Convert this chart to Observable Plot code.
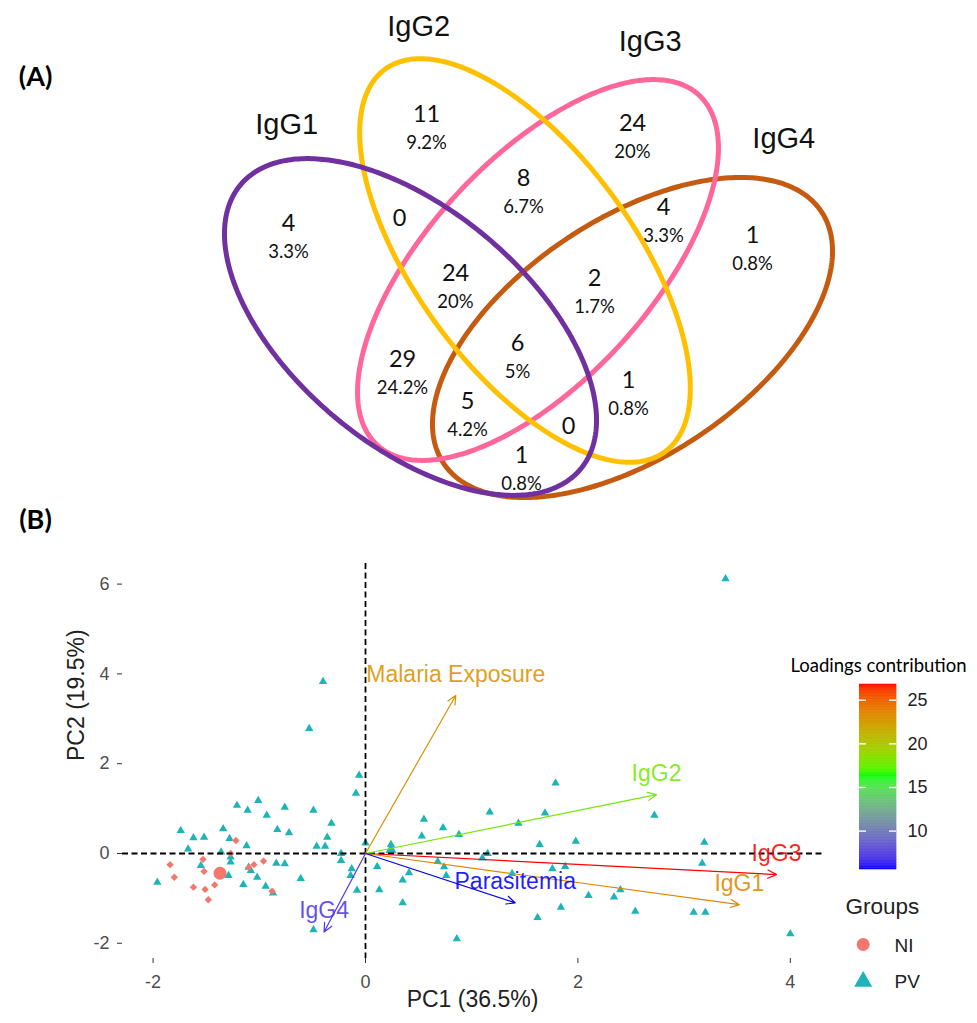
<!DOCTYPE html>
<html><head><meta charset="utf-8">
<script src="https://cdn.jsdelivr.net/npm/d3@7"></script>
<script src="https://cdn.jsdelivr.net/npm/@observablehq/plot@0.6"></script>
<style>
html,body{margin:0;padding:0;background:#fff;}
#root{position:relative;width:977px;height:1023px;overflow:hidden;background:#fff;}
#root > svg, #root > div{position:absolute;}
</style></head><body><div id="root"></div>
<script>
// ---------------- DATA ----------------
// Panel A: Venn
const vennSets = ["IgG1", "IgG2", "IgG3", "IgG4"];
const vennRegions = ["1000","0100","0010","0001","1100","0110","0011","1110","0111","1111","1010","0101","1011","1101","1001"];
const vennCounts  = [4, 11, 24, 1, 0, 8, 4, 24, 2, 6, 29, 1, 5, 0, 1];
const vennPercents = ["3.3%","9.2%","20%","0.8%","","6.7%","3.3%","20%","1.7%","5%","24.2%","0.8%","4.2%","","0.8%"];

// Panel B: PCA biplot
const groups = ["NI", "PV"];
const pvPC1 = [-0.06,-0.09,-1.21,-1.01,-1.11,-0.76,-0.93,-0.49,-0.32,-1.74,-1.62,-1.52,-1.34,-1.28,-0.83,-0.72,-0.36,-0.46,-0.38,-1.12,-1.67,-1.36,-0.23,-0.23,0.00,-1.27,-1.27,-0.84,-0.76,-1.55,-0.13,-0.14,-1.08,-1.02,-1.10,-1.29,-1.96,-0.61,-1.15,-0.94,-0.87,-0.08,0.13,-0.49,0.11,1.79,1.17,0.55,0.73,0.53,0.88,1.44,1.69,1.64,1.98,0.24,0.41,0.35,0.35,0.68,0.74,0.76,1.10,1.15,1.38,1.76,1.88,2.10,1.84,1.62,0.86,2.72,3.19,3.17,2.40,2.34,2.54,3.09,3.20,4.00,3.39,-0.40,-0.53];
const pvPC2 = [1.74,1.34,1.07,1.18,0.96,1.03,0.85,0.96,0.67,0.51,0.35,0.36,0.55,0.33,0.53,0.46,0.36,0.16,0.16,0.17,0.10,0.03,0.00,-0.16,0.23,-0.08,-0.19,-0.22,-0.23,-0.27,-0.34,-0.49,-0.38,-0.53,-0.31,-0.49,-0.64,-0.56,-0.69,-0.73,-0.88,-0.82,-0.81,-1.70,-0.29,1.57,0.92,0.76,0.57,0.39,0.42,0.67,0.90,0.20,0.27,0.20,-0.43,-0.59,-1.10,-0.18,-0.30,-0.49,-0.10,0.00,-0.45,-0.34,-0.29,-0.94,-1.20,-1.43,-1.90,0.85,0.25,-0.22,-0.81,-0.97,-1.29,-1.31,-1.31,-1.79,6.12,3.83,2.78];
const niPC1 = [-1.22,-1.27,-1.53,-1.84,-1.80,-1.52,-1.62,-1.51,-1.42,-1.48,-1.05,-1.10,-0.96,-0.88];
const niPC2 = [0.29,0.00,-0.13,-0.25,-0.53,-0.40,-0.75,-0.80,-0.70,-1.03,-0.25,-0.31,-0.17,-0.84];
const meanPC1 = [-1.37, 0.24];   // group centroids: NI, PV
const meanPC2 = [-0.44, 0.08];
const loadingNames   = ["Malaria Exposure", "IgG2", "IgG3", "IgG1", "Parasitemia", "IgG4"];
const loadingPC1     = [0.85, 2.74, 3.87, 3.52, 1.41, -0.39];
const loadingPC2     = [3.52, 1.31, -0.47, -1.14, -1.10, -1.75];
const loadingContrib = [23.0, 17.8, 26.8, 23.6, 5.6, 7.0];
const xTicks = [-2, 0, 2, 4];
const yTicks = [-2, 0, 2, 4, 6];
const contribTicks = [10, 15, 20, 25];
const xTitle = "PC1 (36.5%)";
const yTitle = "PC2 (19.5%)";

// ---------------- LAYOUT (geometry / styles) ----------------
const ellipseGeom = {
  cx: [410, 524.5, 537.5, 632], cy: [326.5, 260, 269.5, 337],
  a: [221.6, 237, 237.7, 227], b: [117.7, 109, 111, 118.7],
  deg: [39.9, 53.8, -47.4, -33.7]
};
const setColors = ["#7030A0", "#FFC000", "#FF6699", "#C55A11"];
const setLabelOffset = {dx: [-21, -1.5, -4, 43], dy: [-34, -32, -38, -39]};
// small manual nudges of the computed region-label anchors
const regionNudge = {"1000":[-20,-19],"0100":[-2,4],"0010":[-15,1],"0001":[0,-31],"1100":[-5,4],"0110":[-13,-1],
  "0011":[-5,1],"1110":[0,16],"0111":[-8,12],"1111":[-4,8],"1010":[-2,15],"0101":[-13,3],"1011":[0,0],"1101":[-4,5],"1001":[-9,9]};
const drawOrder = [3, 2, 1, 0];
const teal = "#1DB4B7", salmon = "#F3776D";
const colorScale = {type: "linear", domain: [5.6, 16.4, 26.8], range: ["#0000FF", "#00FF00", "#FF0000"], interpolate: "lab"};

const root = document.getElementById("root");

// ---------------- PANEL A ----------------
const E = vennSets.map((s, k) => {
  const th = ellipseGeom.deg[k] * Math.PI / 180;
  return {set: s, cx: ellipseGeom.cx[k], cy: ellipseGeom.cy[k], a: ellipseGeom.a[k], b: ellipseGeom.b[k], c: Math.cos(th), s: Math.sin(th)};
});
function ellPoint(e, t) {
  return [e.cx + e.a * Math.cos(t) * e.c - e.b * Math.sin(t) * e.s,
          e.cy + e.a * Math.cos(t) * e.s + e.b * Math.sin(t) * e.c];
}
function inside(e, x, y) {
  const dx = x - e.cx, dy = y - e.cy;
  const u = dx * e.c + dy * e.s, v = -dx * e.s + dy * e.c;
  return (u / e.a) ** 2 + (v / e.b) ** 2 < 1;
}
const ellPts = [];
for (const k of drawOrder) {
  const N = 360;
  for (let i = 0; i < N; i++) {
    const [x, y] = ellPoint(E[k], 2 * Math.PI * i / N);
    ellPts.push({set: E[k].set, x, y});
  }
}
const setLabels = E.map((e, k) => {
  let top = [0, Infinity];
  for (let i = 0; i < 720; i++) { const p = ellPoint(e, 2 * Math.PI * i / 720); if (p[1] < top[1]) top = p; }
  return {set: e.set, x: top[0] + setLabelOffset.dx[k], y: top[1] + setLabelOffset.dy[k]};
});
// region label anchors: pole of inaccessibility of each region (+ nudge)
const bnd = [];
for (const e of E) for (let i = 0; i < 240; i++) bnd.push(ellPoint(e, 2 * Math.PI * i / 240));
const best = {};
for (let y = 40; y <= 505; y += 3) for (let x = 200; x <= 860; x += 3) {
  let code = ""; for (const e of E) code += inside(e, x, y) ? "1" : "0";
  if (code === "0000") continue;
  let dmin = Infinity;
  for (const p of bnd) { const dx = p[0] - x, dy = p[1] - y; const d = dx * dx + dy * dy; if (d < dmin) dmin = d; }
  if (!best[code] || dmin > best[code].d) best[code] = {x, y, d: dmin};
}
const regionLabels = vennRegions.map((r, i) => {
  const b = best[r] || {x: 0, y: 0}, n = regionNudge[r] || [0, 0];
  return {code: r, count: String(vennCounts[i]), pct: vennPercents[i], x: b.x + n[0], y: b.y + n[1]};
});

const plotA = Plot.plot({
  width: 977, height: 505, margin: 0,
  x: {domain: [0, 977], range: [0, 977], axis: null},
  y: {domain: [0, 505], range: [0, 505], axis: null},
  color: {domain: vennSets, range: setColors},
  style: {background: "white"},
  marks: [
    Plot.line(ellPts, {x: "x", y: "y", z: "set", stroke: "set", strokeWidth: 5, curve: "linear-closed"}),
    Plot.text(setLabels, {x: "x", y: "y", text: "set", fontSize: 29, fontFamily: "Liberation Sans", fill: "#111"}),
    Plot.text(regionLabels, {x: "x", y: d => d.pct ? d.y - 14.5 : d.y, text: "count", fontSize: 23.5, fontFamily: "Lato", fill: "#111"}),
    Plot.text(regionLabels.filter(d => d.pct), {x: "x", y: d => d.y + 14.5, text: "pct", fontSize: 18.5, fontFamily: "Lato", fill: "#111"})
  ]
});
plotA.style.left = "0px"; plotA.style.top = "0px";
root.appendChild(plotA);

// ---------------- PANEL B ----------------
const pv = pvPC1.map((x, i) => ({x, y: pvPC2[i]}));
const ni = niPC1.map((x, i) => ({x, y: niPC2[i]}));
const loadings = loadingNames.map((n, i) => ({name: n, x: loadingPC1[i], y: loadingPC2[i], contrib: loadingContrib[i]}));

const plotB = Plot.plot({
  width: 977, height: 518,
  marginLeft: 122, marginRight: 155, marginTop: 58, marginBottom: 65,
  x: {domain: [-2.288, 4.303]},
  y: {domain: [-2.339, 6.459]},
  color: colorScale,
  style: {background: "transparent", fontFamily: "Liberation Sans"},
  marks: [
    Plot.axisX(xTicks, {tickFormat: d => String(d), tickSize: 5, tickPadding: 12, fontSize: 18, fontFamily: "Liberation Sans", stroke: "#333", fill: "#4D4D4D", label: null}),
    Plot.axisY(yTicks, {tickFormat: d => String(d), tickSize: 5, tickPadding: 8, fontSize: 18, fontFamily: "Liberation Sans", stroke: "#333", fill: "#4D4D4D", label: null}),
    Plot.dot(pv, {x: "x", y: "y", symbol: "triangle", fill: teal, r: 3.1}),
    Plot.dot(ni, {x: "x", y: "y", symbol: "diamond2", fill: salmon, r: 3.3}),
    Plot.dot([0], {x: () => meanPC1[0], y: () => meanPC2[0], symbol: "circle", fill: salmon, r: 6.5}),
    Plot.dot([1], {x: () => meanPC1[1], y: () => meanPC2[1], symbol: "triangle", fill: teal, r: 4.2}),
    Plot.ruleY([0], {stroke: "#000", strokeWidth: 1.8, strokeDasharray: "6,3.5"}),
    Plot.ruleX([0], {stroke: "#000", strokeWidth: 1.8, strokeDasharray: "6,3.5"}),
    Plot.arrow(loadings, {x1: 0, y1: 0, x2: "x", y2: "y", stroke: "contrib", strokeWidth: 1.2, headLength: 12, headAngle: 50}),
    Plot.text(loadings, {x: "x", y: "y", text: "name", fill: "contrib", fillOpacity: 0.88, dy: -21, fontSize: 23, fontFamily: "Liberation Sans"}),
    Plot.text([xTitle], {text: d => d, frameAnchor: "bottom", dy: 48, fontSize: 23, fontFamily: "Liberation Sans", fill: "#222"}),
    Plot.text([yTitle], {text: d => d, frameAnchor: "left", dx: -46, rotate: -90, fontSize: 23, fontFamily: "Liberation Sans", fill: "#222"})
  ]
});
plotB.style.left = "0px"; plotB.style.top = "505px";
root.appendChild(plotB);

// ---------------- COLORBAR LEGEND ----------------
const lo = 5.6, hi = 26.8, nStep = 120, stp = (hi - lo) / nStep;
const steps = d3.range(nStep).map(i => ({y1: lo + i * stp, y2: lo + (i + 1) * stp, v: lo + (i + 0.5) * stp}));
const cb = Plot.plot({
  width: 97, height: 205, marginLeft: 0, marginRight: 60, marginTop: 10, marginBottom: 10,
  x: {domain: [0, 1], axis: null},
  y: {domain: [lo, hi]},
  color: colorScale,
  style: {background: "transparent"},
  marks: [
    Plot.rect(steps, {x1: 0, x2: 1, y1: "y1", y2: "y2", fill: "v", stroke: "v", strokeWidth: 0.6}),
    Plot.ruleY(contribTicks, {x1: 0, x2: 0.19, stroke: "white", strokeWidth: 1.4}),
    Plot.ruleY(contribTicks, {x1: 0.81, x2: 1, stroke: "white", strokeWidth: 1.4}),
    Plot.axisY(contribTicks, {anchor: "right", tickSize: 0, tickPadding: 11, fontSize: 18, fontFamily: "Liberation Sans", fill: "#222", label: null})
  ]
});
cb.style.left = "859px"; cb.style.top = "674px";
root.appendChild(cb);

// ---------------- OVERLAY: panel tags & legends ----------------
const overlay = Plot.plot({
  width: 977, height: 1023, margin: 0,
  x: {domain: [0, 977], range: [0, 977], axis: null},
  y: {domain: [0, 1023], range: [0, 1023], axis: null},
  style: {background: "transparent", pointerEvents: "none"},
  marks: [
    Plot.text(["(A)", "(B)"], {text: d => d, x: 35, y: (d, i) => [77, 520][i], fontSize: 27, fontWeight: "bold", fontFamily: "Lato", fill: "#000"}),
    Plot.text(["Loadings contribution"], {text: d => d, x: 878, y: 666, fontSize: 18.5, fontWeight: "normal", fontFamily: "Lato", fill: "#000"}),
    Plot.text(["Groups"], {text: d => d, x: 845, y: 906, textAnchor: "start", fontSize: 22.5, fontFamily: "Liberation Sans", fill: "#222"}),
    Plot.dot([groups[0]], {x: 862.7, y: 944, symbol: "circle", fill: salmon, r: 6.5}),
    Plot.dot([groups[1]], {x: 862.7, y: 981, symbol: "triangle", fill: teal, r: 6.7}),
    Plot.text(groups, {text: d => d, x: 894, y: (d, i) => 945 + 36 * i, textAnchor: "start", fontSize: 19, fontFamily: "Liberation Sans", fill: "#222"})
  ]
});
overlay.style.left = "0px"; overlay.style.top = "0px";
root.appendChild(overlay);
</script></body></html>
